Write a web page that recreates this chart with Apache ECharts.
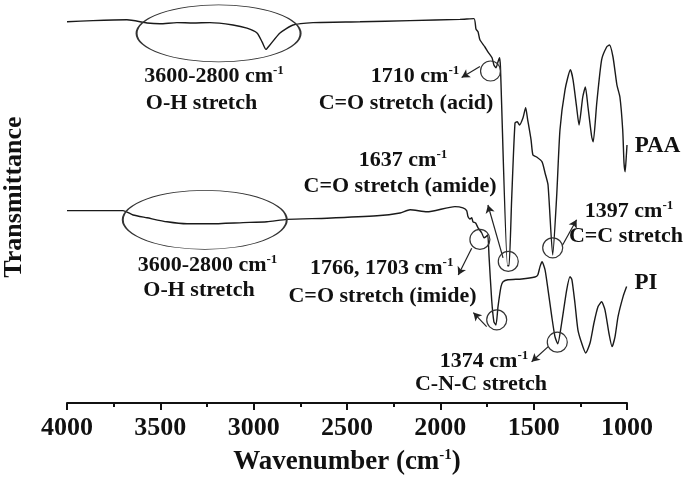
<!DOCTYPE html>
<html><head><meta charset="utf-8">
<script src="https://cdn.jsdelivr.net/npm/echarts@6/dist/echarts.min.js"></script>
<style>html,body{margin:0;padding:0;background:#fff}#c{width:685px;height:477px}</style>
</head><body><div id="c"></div>
<script>
// ---- data (transmittance in arbitrary units) ----
const paaWavenumber = [4000,3861,3679,3571,3502,3411,3325,3234,3111,3036,2982,2955,2934,2913,2859,2789,2682,2430,2162,1895,1820,1809,1798,1788,1761,1745,1723,1713,1702,1691,1683,1678,1640,1632,1618,1600,1588,1576,1557,1543,1532,1514,1504,1484,1455,1439,1423,1398,1377,1359,1332,1303,1289,1270,1257,1237,1223,1209,1189,1181,1162,1136,1109,1094,1075,1054,1038,1023,1016,1010,1004,1000];
const paaTransmittance = [95.3,95.6,95.8,95.0,94.8,95.1,95.0,95.1,94.5,93.7,92.5,90.3,88.4,89.5,92.5,94.5,95.1,95.3,95.6,95.9,96.1,93.5,92.8,90.8,89.0,87.8,86.3,84.5,83.8,85.3,86.3,84.0,34.3,34.3,50.8,70.0,70.3,69.5,71.3,73.8,70.8,65.8,62.0,61.5,60.3,57.5,54.5,37.0,51.5,68.3,78.3,83.3,80.8,74.0,69.5,76.5,79.0,74.0,66.5,65.3,75.0,85.8,89.0,89.5,86.5,79.5,76.5,68.3,60.0,57.8,61.5,64.5];
const piWavenumber = [4000,3700,3646,3571,3464,3357,3234,3057,2929,2822,2607,2339,2216,2162,2072,1922,1879,1859,1852,1841,1832,1825,1811,1798,1778,1766,1755,1746,1739,1725,1713,1702,1691,1675,1664,1638,1564,1493,1478,1466,1455,1439,1423,1403,1386,1371,1350,1323,1305,1295,1279,1263,1243,1221,1198,1177,1155,1136,1118,1097,1080,1064,1048,1021,1002];
const piTransmittance = [48.1,48.1,47.0,46.3,45.3,44.8,44.8,45.1,45.3,45.9,46.2,46.8,47.5,48.3,47.8,49.1,48.8,48.1,46.6,46.0,46.3,45.3,45.0,43.8,42.5,41.3,41.6,42.0,36.6,25.8,20.3,19.5,24.1,29.1,30.3,30.8,31.0,31.5,32.0,34.1,35.3,33.3,28.3,21.6,16.6,14.8,20.0,28.3,31.6,30.8,25.0,18.3,15.0,12.5,15.0,20.0,24.1,25.3,23.3,17.5,14.1,16.6,21.6,26.6,29.1];
const xTickValues = [4000,3500,3000,2500,2000,1500,1000];
const seriesNames = ['PAA','PI'];

// ---- annotation anchors (wavenumber, transmittance) ----
const paaCircles = [[1731,83.0],[1636,35.4],[1398,38.8]];
const piCircles = [[1788,40.9],[1698,20.8],[1373.5,15.2]];
const paaEllipse = [3188,92.4];
const piEllipse = [3262,45.8];
const paaArrows = [[[1788,84.1],[1886,81.4]],[[1664,36.3],[1745,49.5]],[[1345,39.5],[1270,45.8]]];
const piArrows = [[[1832,38.7],[1904,32.0]],[[1752,19.1],[1823,22.6]],[[1422,14.1],[1511,10.3]]];

const serif = '"Liberation Serif","Times New Roman",serif';
const ink = '#111';
const ellipsePath = 'path://M0,50A50,50,0,1,1,100,50A50,50,0,1,1,0,50Z';

function pairs(xs, ys){ return xs.map((x,i)=>[x, ys[i]]); }
function circleMarks(list, ell, ellSize){
  const d = list.map(c=>({coord:c, symbol:'circle', symbolSize:20}));
  d.push({coord:ell, symbol:ellipsePath, symbolSize:ellSize});
  return {
    silent:true, label:{show:false},
    itemStyle:{color:'rgba(0,0,0,0)', borderColor:'#333', borderWidth:1.2},
    data:d
  };
}
function arrowMarks(list){
  return {
    silent:true, symbol:['none','arrow'], symbolSize:[7,8], label:{show:false},
    lineStyle:{color:'#222', width:1.2, type:'solid'},
    data:list.map(a=>[{coord:a[0]},{coord:a[1]}])
  };
}

// text annotations: [centre x, baseline y, main text, superscript, font size]
const texts = [
  [214,83,'3600-2800 cm','-1',22],
  [201.5,110,'O-H stretch','',22],
  [415,83,'1710 cm','-1',22],
  [406,110,'C=O stretch (acid)','',22],
  [403,166.7,'1637 cm','-1',22],
  [400,193.3,'C=O stretch (amide)','',22],
  [629,218,'1397 cm','-1',22],
  [626,243.3,'C=C stretch','',22],
  [657.5,153.3,'PAA','',23],
  [646,290,'PI','',23],
  [207.5,272,'3600-2800 cm','-1',22],
  [199,296.7,'O-H stretch','',22],
  [381.7,275,'1766, 1703 cm','-1',22],
  [382.5,303,'C=O stretch (imide)','',22],
  [484,368,'1374 cm','-1',22],
  [481,391.5,'C-N-C stretch','',22]
];
const graphics = texts.map(t=>({
  type:'text', x:t[0], y:t[1]-0.31*t[4], silent:true,
  style:{
    text: t[3] ? '{n|'+t[2]+'}{s|'+t[3]+'}' : '{n|'+t[2]+'}',
    align:'center', verticalAlign:'middle', fill:ink,
    rich:{
      n:{fontFamily:serif, fontWeight:'bold', fontSize:t[4], lineHeight:t[4]+2, fill:ink},
      s:{fontFamily:serif, fontWeight:'bold', fontSize:13, lineHeight:t[4]+2, verticalAlign:'top', fill:ink}
    }
  }
}));

const chart = echarts.init(document.getElementById('c'));
chart.setOption({
  animation:false,
  backgroundColor:'#fff',
  grid:{left:67, right:58, top:3, bottom:74, containLabel:false, outerBoundsMode:'none'},
  xAxis:{
    type:'value', min:1000, max:4000, interval:500, inverse:true,
    axisLine:{lineStyle:{color:ink, width:2}},
    axisTick:{inside:false, length:7, lineStyle:{color:ink, width:2}},
    minorTick:{show:true, splitNumber:2, length:4, lineStyle:{color:ink, width:2}},
    splitLine:{show:false}, minorSplitLine:{show:false},
    axisLabel:{fontFamily:serif, fontWeight:'bold', fontSize:26, color:ink, margin:12,
      formatter:v=> xTickValues.indexOf(v)>=0 ? String(v) : ''},
    name:'{n|Wavenumber (cm}{s|-1}{n|)}', nameLocation:'middle', nameGap:45,
    nameTextStyle:{rich:{
      n:{fontFamily:serif, fontWeight:'bold', fontSize:27, lineHeight:29, color:ink},
      s:{fontFamily:serif, fontWeight:'bold', fontSize:15, lineHeight:29, verticalAlign:'top', color:ink}
    }}
  },
  yAxis:{
    type:'value', min:0, max:100,
    axisLine:{show:false}, axisTick:{show:false}, axisLabel:{show:false}, splitLine:{show:false},
    name:'Transmittance', nameLocation:'middle', nameGap:40,
    nameTextStyle:{fontFamily:serif, fontWeight:'bold', fontSize:26, color:ink, padding:[0,0,0,12]}
  },
  series:[
    {name:seriesNames[0], type:'line', data:pairs(paaWavenumber,paaTransmittance), symbol:'none',
     smooth:0.2, lineStyle:{color:'#1a1a1a', width:1.4}, clip:true,
     markPoint:circleMarks(paaCircles, paaEllipse, [164,57]), markLine:arrowMarks(paaArrows)},
    {name:seriesNames[1], type:'line', data:pairs(piWavenumber,piTransmittance), symbol:'none',
     smooth:0.2, lineStyle:{color:'#1a1a1a', width:1.4}, clip:true,
     markPoint:circleMarks(piCircles, piEllipse, [164,59]), markLine:arrowMarks(piArrows)}
  ],
  graphic:graphics
});
</script>
</body></html>
